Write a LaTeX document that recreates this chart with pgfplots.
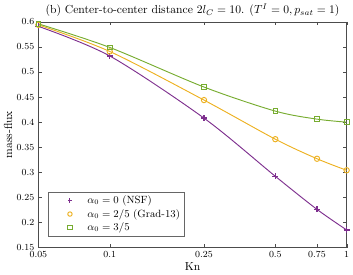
\documentclass[border=0pt]{standalone}
\usepackage{pgfplots}
\pgfplotsset{compat=1.18}
\definecolor{mpurple}{rgb}{0.494,0.184,0.556}
\definecolor{morange}{rgb}{0.929,0.694,0.125}
\definecolor{mgreen}{rgb}{0.466,0.674,0.188}
\begin{document}
\begin{tikzpicture}
\begin{axis}[
  scale only axis,
  width=265pt, height=194pt,
  xmode=log,
  xmin=0.05, xmax=1,
  ymin=0.15, ymax=0.6,
  xtick={0.05,0.1,0.25,0.5,0.75,1},
  xticklabels={0.05,0.1,0.25,0.5,0.75,1},
  ytick={0.15,0.2,0.25,0.3,0.35,0.4,0.45,0.5,0.55,0.6},
  yticklabels={0.15,0.2,0.25,0.3,0.35,0.4,0.45,0.5,0.55,0.6},
  tick label style={font=\footnotesize},
  axis line style={black!70},
  tick style={black!70},
  major tick length=3pt, minor tick length=1.8pt,
  title={(b) Center-to-center distance $2l_C=10$. ($T^I=0, p_{sat}=1$)},
  title style={yshift=-5pt},
  xlabel={Kn}, ylabel={mass-flux},
  xlabel style={yshift=3pt},
  ylabel style={yshift=-3pt},
  legend style={at={(0.03,0.05)},anchor=south west, font=\small, draw=black!60, legend cell align=left, row sep=-0.5pt, inner xsep=2pt, inner ysep=1pt},
  legend image code/.code={\path[draw=none,fill=none,use as bounding box] (0pt,-2pt) rectangle (30pt,2pt); \draw[only marks, mark size=1.9pt, mark options={line width=0.8pt}] plot coordinates {(17pt,0pt)};},
]
\addplot[mpurple, thick, smooth, mark=+, mark size=2.5pt, mark options={line width=1.2pt}] coordinates {
(0.05,0.591) (0.1,0.532) (0.25,0.408) (0.5,0.292) (0.75,0.226) (1,0.185)};
\addplot[morange, thick, smooth, mark=o, mark size=2.3pt] coordinates {
(0.05,0.594) (0.1,0.541) (0.25,0.444) (0.5,0.366) (0.75,0.327) (1,0.304)};
\addplot[mgreen, thick, smooth, mark=square, mark size=2pt] coordinates {
(0.05,0.596) (0.1,0.549) (0.25,0.470) (0.5,0.422) (0.75,0.406) (1,0.400)};
\legend{$\alpha_0=0$ (NSF), $\alpha_0=2/5$ (Grad-13), $\alpha_0=3/5$}
\end{axis}
\end{tikzpicture}
\end{document}
